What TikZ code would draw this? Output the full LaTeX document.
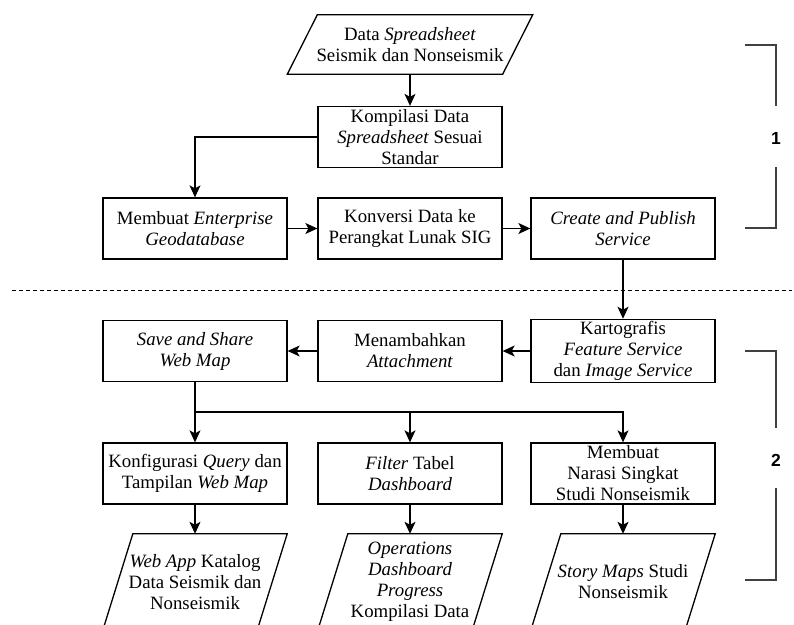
\documentclass[tikz,border=0pt]{standalone}
\usepackage{fontspec}
\setmainfont{Liberation Serif}
\newfontfamily\numfont{Liberation Sans}
\usetikzlibrary{arrows.meta}

\tikzset{
  procbox/.style={draw, line width=1.3pt, minimum width=184pt, minimum height=61pt,
    inner sep=2pt, align=center, font=\fontsize{18.8}{21}\selectfont},
  iobox/.style={minimum width=184pt, minimum height=96pt, inner sep=2pt,
    align=center, font=\fontsize{18.8}{21}\selectfont},
  flow/.style={line width=1.2pt, -{Stealth[length=12pt,width=11pt,inset=3pt]}},
  bracket/.style={draw=black!75, line width=1.5pt},
  stage/.style={font=\numfont\bfseries\fontsize{17.5}{19}\selectfont, text=black}
}

\begin{document}
\begin{tikzpicture}[x=1pt,y=-1pt]
  \useasboundingbox (0,0) rectangle (794,624);
  \clip (0,0) rectangle (794,624);

  \node [iobox, minimum width=245pt, minimum height=59pt] (src) at (410,44.5)
    {Data \textit{Spreadsheet}\\Seismik dan Nonseismik};
  \node [procbox] (kompilasi) at (410,137) {Kompilasi Data\\\textit{Spreadsheet} Sesuai\\Standar};

  \node [procbox] (geodb) at (195,228.5) {Membuat \textit{Enterprise}\\\textit{Geodatabase}};
  \node [procbox] (konversi) at (410,228.5) {Konversi Data ke\\Perangkat Lunak SIG};
  \node [procbox] (publish) at (623,228.5) {\textit{Create and Publish}\\\textit{Service}};

  \node [procbox] (kartografis) at (623,351) {Kartografis\\\textit{Feature Service}\\dan \textit{Image Service}};
  \node [procbox] (attach) at (410,351) {Menambahkan\\\textit{Attachment}};
  \node [procbox] (webmap) at (195,351) {\textit{Save and Share}\\\textit{Web Map}};

  \node [procbox] (query) at (195,473.5) {Konfigurasi \textit{Query} dan\\Tampilan \textit{Web Map}};
  \node [procbox] (filter) at (410,473.5) {\textit{Filter} Tabel\\\textit{Dashboard}};
  \node [procbox] (narasi) at (623,473.5) {Membuat\\Narasi Singkat\\Studi Nonseismik};

  \node [iobox] (webapp) at (195,582) {\textit{Web App} Katalog\\Data Seismik dan\\Nonseismik};
  \node [iobox] (dashboard) at (410,582) {\textit{Operations}\\\textit{Dashboard}\\\textit{Progress}\\Kompilasi Data};
  \node [iobox] (storymap) at (623,582) {\textit{Story Maps} Studi\\Nonseismik};

  \foreach \n in {src,webapp,dashboard,storymap}
    \draw [line width=1.3pt] ([xshift=30pt]\n.north west) -- (\n.north east)
      -- ([xshift=-30pt]\n.south east) -- (\n.south west) -- cycle;

  \draw [flow] (src) -- (kompilasi);
  \draw [flow] (kompilasi.west) -| (geodb.north);
  \draw [flow] (geodb) -- (konversi);
  \draw [flow] (konversi) -- (publish);
  \draw [flow] (publish) -- (kartografis);
  \draw [flow] (kartografis) -- (attach);
  \draw [flow] (attach) -- (webmap);

  \coordinate (split) at (195,412);
  \draw [flow] (webmap) -- (query);
  \draw [flow] (split) -| (filter.north);
  \draw [flow] (split) -| (narasi.north);

  \draw [flow] (query) -- (webapp);
  \draw [flow] (filter) -- (dashboard);
  \draw [flow] (narasi) -- (storymap);

  \draw [line width=1pt, dash pattern=on 4pt off 3pt] (12,290) -- (792,290);

  \draw [bracket] (745,45) -- (776,45) -- (776,106);
  \draw [bracket] (776,167) -- (776,228) -- (745,228);
  \node [stage] (stage1) at (776,138) {1};
  \draw [bracket] (745,351) -- (776,351) -- (776,428);
  \draw [bracket] (776,488) -- (776,580) -- (745,580);
  \node [stage] (stage2) at (776,460) {2};
\end{tikzpicture}
\end{document}
